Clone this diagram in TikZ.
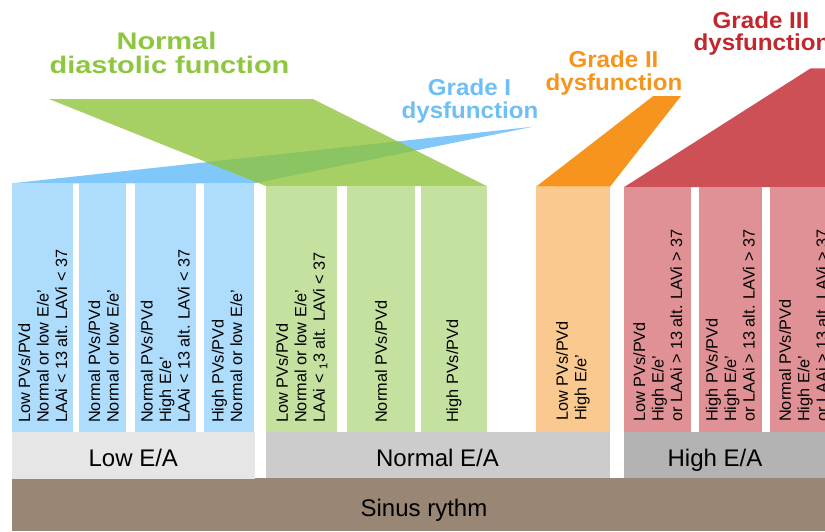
\documentclass[tikz,border=0pt]{standalone}
\usepackage{fontspec}
\setmainfont{Liberation Sans}
\definecolor{colblue}{HTML}{AEDCFC}
\definecolor{colgreen}{HTML}{C5E1A0}
\definecolor{colorange}{HTML}{FAC98F}
\definecolor{colred}{HTML}{E09195}
\definecolor{polyblue}{HTML}{80C8FA}
\definecolor{polygreen}{HTML}{A6CF64}
\definecolor{polyover}{HTML}{8BC462}
\definecolor{polyorange}{HTML}{F7941E}
\definecolor{polyred}{HTML}{CC5056}
\definecolor{ttlgreen}{HTML}{8DC63F}
\definecolor{ttlblue}{HTML}{6DBFF6}
\definecolor{ttlorange}{HTML}{F7941D}
\definecolor{ttlred}{HTML}{C1272D}
\definecolor{ealow}{HTML}{E6E6E6}
\definecolor{eanorm}{HTML}{CCCCCC}
\definecolor{eahigh}{HTML}{B3B3B3}
\definecolor{sinus}{HTML}{998675}
\begin{document}
\begin{tikzpicture}[x=1pt,y=-1pt,
  coltext/.style={rotate=90,anchor=west,align=left,inner sep=0pt,
    font=\fontsize{16.3}{18.5}\selectfont},
  ttl/.style={anchor=base,inner sep=0pt,font=\fontsize{23}{23}\selectfont\bfseries,xscale=1.05},
  ttlbig/.style={ttl,font=\fontsize{24}{24}\selectfont\bfseries,xscale=1.15},
  ealabel/.style={anchor=base,inner sep=0pt,font=\fontsize{24}{24}\selectfont}]
\useasboundingbox (0,0) rectangle (825,531);
\clip (0,0) rectangle (825,531);
% polygons
\fill[polyblue] (12,183.3) -- (533,126.7) -- (254,183.3) -- cycle;
\fill[polygreen] (49,99) -- (313,99) -- (486.7,186) -- (266,186) -- cycle;
\begin{scope}
  \clip (12,183.3) -- (533,126.7) -- (254,183.3) -- cycle;
  \fill[polyover] (49,99) -- (313,99) -- (486.7,186) -- (266,186) -- cycle;
\end{scope}
\fill[polyorange] (536,186.7) -- (653.3,96) -- (681,96) -- (610,186.7) -- cycle;
\fill[polyred] (624.3,187) -- (810.7,68.3) -- (840,68.3) -- (840,187) -- cycle;
% columns
\fill[colblue] (12,183.3) rectangle (72.7,432);
\fill[colblue] (78.7,183.3) rectangle (126,432);
\fill[colblue] (134.7,183.3) rectangle (196,432);
\fill[colblue] (204,183.3) rectangle (254,432);
\fill[colgreen] (266,186) rectangle (337.3,432);
\fill[colgreen] (347.3,186) rectangle (415,432);
\fill[colgreen] (421.3,186) rectangle (486.7,432);
\fill[colorange] (536,186.7) rectangle (610,432);
\fill[colred] (624.3,187) rectangle (691,432);
\fill[colred] (699,187) rectangle (761.7,432);
\fill[colred] (770,187) rectangle (840,432);
% bottom bars
\fill[sinus] (12,478) rectangle (825,531);
\fill[ealow] (12,432) rectangle (254.5,479);
\fill[eanorm] (266,432) rectangle (609.5,478);
\fill[eahigh] (624,432) rectangle (825,478);
% column texts
\node[coltext] (t1) at (42.8,423) {Low PVs/PVd\\Normal or low E/e'\\LAAi < 13 alt. LAVi < 37};
\node[coltext] (t2) at (103.5,423) {Normal PVs/PVd\\Normal or low E/e'};
\node[coltext] (t3) at (165.3,423) {Normal PVs/PVd\\High E/e'\\LAAi < 13 alt. LAVi < 37};
\node[coltext] (t4) at (227,423) {High PVs/PVd\\Normal or low E/e'};
\node[coltext] (t5) at (301.7,423) {Low PVs/PVd\\Normal or low E/e'\\LAAi < \textsubscript{1}3 alt. LAVi < 37};
\node[coltext] (t6) at (381,423) {Normal PVs/PVd};
\node[coltext] (t7) at (454,423) {High PVs/PVd};
\node[coltext] (t8) at (573,421) {Low PVs/PVd\\High E/e'};
\node[coltext] (t9) at (657.7,422) {Low PVs/PVd\\High E/e'\\or LAAi > 13 alt. LAVi > 37};
\node[coltext] (t10) at (730.3,422) {High PVs/PVd\\High E/e'\\or LAAi > 13 alt. LAVi > 37};
\node[coltext] (t11) at (803.5,422) {Normal PVs/PVd\\High E/e'\\or LAAi > 13 alt. LAVi > 37};
% bottom labels
\node[ealabel] (lowea) at (133.3,466.5) {Low E/A};
\node[ealabel] (normea) at (437.5,466.5) {Normal E/A};
\node[ealabel] (highea) at (715,466.5) {High E/A};
\node[ealabel] (sinusr) at (424,516.5) {Sinus rythm};
% titles
\node[ttlbig,text=ttlgreen] (ndf1) at (166.5,49) {Normal};
\node[ttlbig,text=ttlgreen] (ndf2) at (169.5,73.3) {diastolic function};
\node[ttl,text=ttlblue] (g1a) at (469.5,95.5) {Grade I};
\node[ttl,text=ttlblue] (g1b) at (470,118.3) {dysfunction};
\node[ttl,text=ttlorange] (g2a) at (613.5,67.5) {Grade II};
\node[ttl,text=ttlorange] (g2b) at (614,90.5) {dysfunction};
\node[ttl,text=ttlred] (g3a) at (761,28) {Grade III};
\node[ttl,text=ttlred] (g3b) at (762,50.7) {dysfunction};
\end{tikzpicture}
\end{document}
